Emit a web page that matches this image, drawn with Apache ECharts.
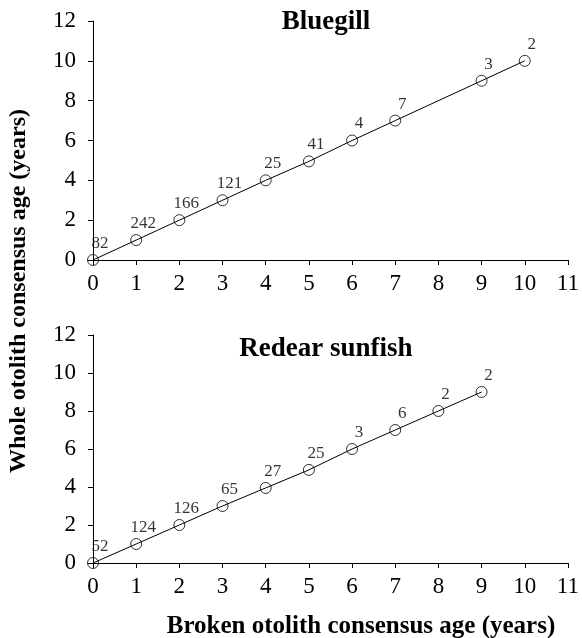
<!DOCTYPE html>
<html>
<head>
<meta charset="utf-8">
<script src="https://cdn.jsdelivr.net/npm/echarts@6/dist/echarts.min.js"></script>
<style>
  html, body { margin: 0; padding: 0; background: #fff; }
  #chart { width: 582px; height: 638px; }
</style>
</head>
<body>
<div id="chart"></div>
<script>
    // broken otolith age (x), whole otolith mean age (y), sample size (n)
    const bgAge = [0, 1, 2, 3, 4, 5, 6, 7, 9, 10]
    const bgWhole = [0, 1.0, 2.0, 3.0, 4.0, 4.95, 6.0, 7.0, 9.0, 10.0]
    const bgN = [82, 242, 166, 121, 25, 41, 4, 7, 3, 2]

    const rsAge = [0, 1, 2, 3, 4, 5, 6, 7, 8, 9]
    const rsWhole = [0, 1.0, 2.0, 3.0, 3.95, 4.9, 6.0, 7.0, 8.0, 9.0]
    const rsN = [52, 124, 126, 65, 27, 25, 3, 6, 2, 2]

    const xTicks = [0, 1, 2, 3, 4, 5, 6, 7, 8, 9, 10, 11]
    const yTicks = [0, 2, 4, 6, 8, 10, 12]

    const serif = '"Liberation Serif", "DejaVu Serif", serif'

    function pts(xs, ys, ns) {
        return xs.map((x, i) => [x, ys[i], ns[i]])
    }

    function xAxis(idx) {
        return {
            type: 'value', gridIndex: idx, min: xTicks[0], max: xTicks[xTicks.length - 1], interval: 1,
            axisLine: {show: true, onZero: false, lineStyle: {color: '#000', width: 1}},
            axisTick: {show: true, length: 5, lineStyle: {color: '#000'}},
            axisLabel: {color: '#000', fontFamily: serif, fontSize: 23, margin: 12},
            splitLine: {show: false}
        }
    }

    function yAxis(idx) {
        return {
            type: 'value', gridIndex: idx, min: yTicks[0], max: yTicks[yTicks.length - 1], interval: 2,
            axisLine: {show: true, lineStyle: {color: '#000', width: 1}},
            axisTick: {show: true, length: 5, lineStyle: {color: '#000'}},
            axisLabel: {color: '#000', fontFamily: serif, fontSize: 23, margin: 17},
            splitLine: {show: false}
        }
    }

    function lineSeries(idx, data) {
        return {
            type: 'line', xAxisIndex: idx, yAxisIndex: idx, data: data,
            showSymbol: false, silent: true, z: 1,
            lineStyle: {color: '#000', width: 1}
        }
    }

    function pointSeries(idx, data) {
        return {
            type: 'scatter', xAxisIndex: idx, yAxisIndex: idx, data: data,
            symbol: 'circle', symbolSize: 11, z: 2,
            itemStyle: {color: 'rgba(0,0,0,0)', borderColor: '#000', borderWidth: 1},
            label: {
                show: true, position: 'top', distance: 2, offset: [7, 0],
                formatter: p => p.value[2],
                color: '#000', fontFamily: serif, fontSize: 17
            }
        }
    }

    const myChart = echarts.init(document.getElementById('chart'))
    myChart.setOption({
        backgroundColor: '#fff',
        animation: false,
        title: [
            {text: 'Bluegill', left: 321, top: 4, textAlign: 'center',
                textStyle: {fontFamily: serif, fontSize: 27, fontWeight: 'bold', color: '#000'}},
            {text: 'Redear sunfish', left: 321, top: 331, textAlign: 'center',
                textStyle: {fontFamily: serif, fontSize: 27, fontWeight: 'bold', color: '#000'}},
            {text: 'Broken otolith consensus age (years)', left: 356, top: 609, textAlign: 'center',
                textStyle: {fontFamily: serif, fontSize: 25, fontWeight: 'bold', color: '#000'}}
        ],
        graphic: [{
            type: 'text', x: 19, y: 291, rotation: Math.PI / 2,
            style: {
                text: 'Whole otolith consensus age (years)', fill: '#000',
                font: 'bold 24px ' + serif, align: 'center', verticalAlign: 'middle'
            }
        }],
        grid: [
            {left: 93, right: 14, top: 21, height: 239},
            {left: 93, right: 14, top: 335, height: 228}
        ],
        xAxis: [xAxis(0), xAxis(1)],
        yAxis: [yAxis(0), yAxis(1)],
        series: [
            lineSeries(0, pts(bgAge, bgWhole, bgN)),
            pointSeries(0, pts(bgAge, bgWhole, bgN)),
            lineSeries(1, pts(rsAge, rsWhole, rsN)),
            pointSeries(1, pts(rsAge, rsWhole, rsN))
        ]
    })
</script>
</body>
</html>
